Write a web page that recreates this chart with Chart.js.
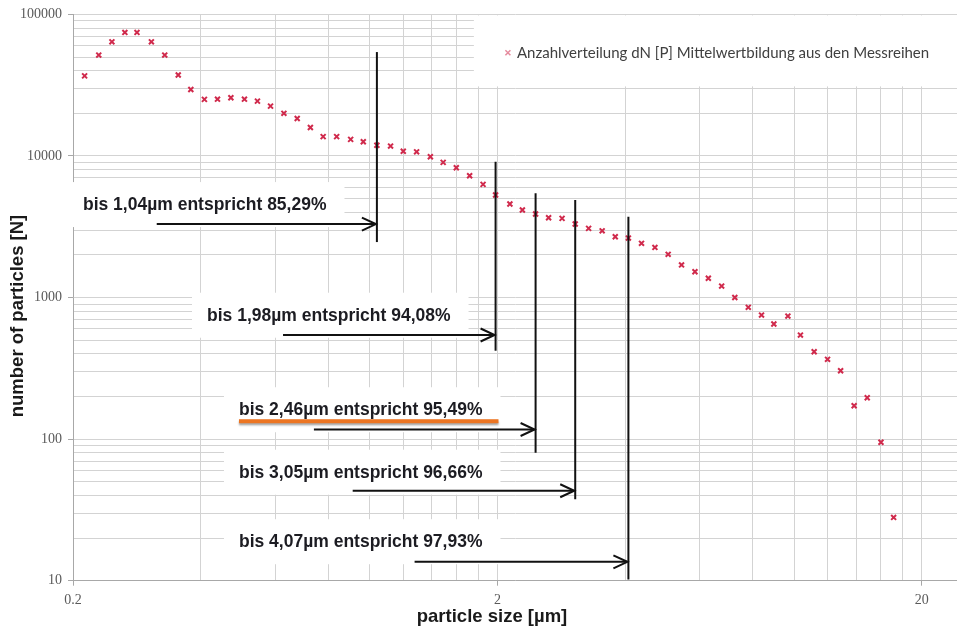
<!DOCTYPE html>
<html>
<head>
<meta charset="utf-8">
<script src="https://cdn.jsdelivr.net/npm/chart.js@4/dist/chart.umd.min.js"></script>
<style>
  html, body { margin: 0; padding: 0; background: #fff; overflow: hidden; }
  #wrap { width: 957px; height: 631px; }
  canvas { display: block; }
</style>
</head>
<body>
<div id="wrap"><canvas id="c" width="957" height="631"></canvas></div>
<script>
// Particle size channels [µm]
const sizes = [
  0.213, 0.230, 0.247, 0.265, 0.283, 0.306, 0.329, 0.354, 0.379, 0.408,
  0.438, 0.471, 0.507, 0.544, 0.584, 0.628, 0.675, 0.725, 0.777, 0.836,
  0.902, 0.966, 1.04, 1.12, 1.20, 1.29, 1.39, 1.49, 1.60, 1.72,
  1.85, 1.98, 2.14, 2.29, 2.46, 2.64, 2.84, 3.05, 3.28, 3.53,
  3.79, 4.07, 4.37, 4.70, 5.05, 5.43, 5.84, 6.28, 6.75, 7.25,
  7.80, 8.38, 8.96, 9.67, 10.35, 11.15, 11.99, 12.87, 13.85, 14.87,
  16.02, 17.16
];
// Averaged number distribution dN per channel
const counts = [
  36800, 51600, 64000, 74600, 74600, 64000, 51600, 37300, 29500, 25100,
  25200, 25800, 25200, 24400, 22500, 20000, 18400, 15900, 13700, 13700,
  13100, 12600, 11900, 11750, 10800, 10700, 9870, 9010, 8250, 7250,
  6300, 5300, 4580, 4150, 3890, 3660, 3625, 3305, 3080, 2960,
  2690, 2630, 2415, 2260, 2020, 1700, 1520, 1370, 1205, 1000,
  853, 752, 650, 740, 543, 414, 366, 304, 172, 196,
  95, 28
];
const xTickLabels = ['0.2', '2', '20'];
const yTickLabels = ['10', '100', '1000', '10000', '100000'];

// Cumulative share below each cut-off size
const cutoffSizes  = [1.04, 1.98, 2.46, 3.05, 4.07];
const cutoffShares = [85.29, 94.08, 95.49, 96.66, 97.93];
const highlighted  = 2;   // the underlined statement

const seriesLabel = 'Anzahlverteilung dN [P] Mittelwertbildung aus den Messreihen';
const xTitle = 'particle size [µm]';
const yTitle = 'number of particles [N]';

// Placement of the cut-off annotations, in axis units
const cutoffLayout = [
  { text: [0.2111, 4500], top: 54200, bottom: 2466, from: 0.315, at: 3304 },
  { text: [0.4138, 744],  top: 9100,  bottom: 421,  from: 0.625, at: 544 },
  { text: [0.4921, 160],  top: 5445,  bottom: 80.2, from: 0.739, at: 117 },
  { text: [0.4921, 57.9], top: 4884,  bottom: 37.6, from: 0.912, at: 43.2 },
  { text: [0.4921, 18.7], top: 3723,  bottom: 10.2, from: 1.276, at: 13.6 }
];
const legendLayout = { left: 1.76, bottom: 31000, marker: [2.117, 53600] };

// Grid positions: every 0.2 µm below 2 µm, every 2 µm above; 1..9 per decade on y
const xGrid = [];
for (let k = 1; k <= 10; k++) xGrid.push((k * 2) / 10);
for (let k = 2; k <= 10; k++) xGrid.push(k * 2);
const yGrid = [];
for (let e = 1; e <= 4; e++) for (let d = 1; d <= 9; d++) yGrid.push(d * Math.pow(10, e));
yGrid.push(100000);

const fmt = v => v.toFixed(2).replace('.', ',');
const cutoffText = i => `bis ${fmt(cutoffSizes[i])}µm entspricht ${fmt(cutoffShares[i])}%`;

const markColor = '#d02a4c';
const labelFont = 'bold 17.5px "Liberation Sans", Arial, sans-serif';
const titleFont = 'bold 18.5px "Liberation Sans", Arial, sans-serif';

function arrowHead(ctx, x, y) {
  ctx.beginPath();
  ctx.moveTo(x - 14, y - 6.5);
  ctx.lineTo(x, y);
  ctx.lineTo(x - 14, y + 6.5);
  ctx.stroke();
}

const annotations = {
  id: 'annotations',
  beforeDatasetsDraw(chart) {
    const { ctx, chartArea } = chart;
    const x = chart.scales.x, y = chart.scales.y;
    ctx.save();
    ctx.fillStyle = '#ffffff';
    // legend panel
    const lx = x.getPixelForValue(legendLayout.left);
    const lb = y.getPixelForValue(legendLayout.bottom);
    ctx.fillRect(lx, chartArea.top + 1, chartArea.right - lx, lb - chartArea.top - 1);
    // text panels of the cut-off statements
    ctx.font = labelFont;
    cutoffLayout.forEach((L, i) => {
      const tx = x.getPixelForValue(L.text[0]);
      const ty = y.getPixelForValue(L.text[1]);
      const w = ctx.measureText(cutoffText(i)).width;
      ctx.fillRect(tx - 15, ty - 23, w + 33, 45);
    });
    ctx.restore();
  },
  afterDatasetsDraw(chart) {
    const { ctx } = chart;
    const x = chart.scales.x, y = chart.scales.y;
    ctx.save();
    ctx.strokeStyle = '#111';
    ctx.lineWidth = 2;
    ctx.lineCap = 'butt';
    cutoffLayout.forEach((L, i) => {
      const cx = x.getPixelForValue(cutoffSizes[i]);
      // vertical cut-off line
      ctx.beginPath();
      ctx.moveTo(cx, y.getPixelForValue(L.top));
      ctx.lineTo(cx, y.getPixelForValue(L.bottom));
      ctx.stroke();
      // arrow pointing at the cut-off
      const ay = y.getPixelForValue(L.at);
      ctx.beginPath();
      ctx.moveTo(x.getPixelForValue(L.from), ay);
      ctx.lineTo(cx - 1, ay);
      ctx.stroke();
      arrowHead(ctx, cx - 1, ay);
    });
    // statements
    ctx.font = labelFont;
    ctx.textBaseline = 'middle';
    ctx.textAlign = 'left';
    cutoffLayout.forEach((L, i) => {
      const tx = x.getPixelForValue(L.text[0]);
      const ty = y.getPixelForValue(L.text[1]);
      ctx.fillStyle = '#1c1c22';
      ctx.fillText(cutoffText(i), tx, ty);
      if (i === highlighted) {
        const w = ctx.measureText(cutoffText(i)).width;
        ctx.save();
        ctx.shadowColor = 'rgba(0,0,0,0.35)';
        ctx.shadowOffsetY = 2;
        ctx.shadowBlur = 2;
        ctx.fillStyle = '#ec7522';
        ctx.fillRect(tx, ty + 9, w + 16, 4);
        ctx.restore();
      }
    });
    // legend entry
    const mx = x.getPixelForValue(legendLayout.marker[0]);
    const my = y.getPixelForValue(legendLayout.marker[1]);
    ctx.strokeStyle = 'rgba(208,42,76,0.55)';
    ctx.lineWidth = 1.5;
    ctx.beginPath();
    ctx.moveTo(mx - 2.5, my - 2.5); ctx.lineTo(mx + 2.5, my + 2.5);
    ctx.moveTo(mx - 2.5, my + 2.5); ctx.lineTo(mx + 2.5, my - 2.5);
    ctx.stroke();
    ctx.fillStyle = '#404040';
    ctx.font = '15px Lato, "Liberation Sans", sans-serif';
    ctx.fillText(seriesLabel, mx + 9, my);
    ctx.restore();
  },
  afterDraw(chart) {
    const { ctx } = chart;
    ctx.save();
    ctx.fillStyle = '#1a1a1a';
    ctx.font = titleFont;
    ctx.textAlign = 'center';
    ctx.textBaseline = 'middle';
    ctx.fillText(xTitle, 492, 617);
    ctx.translate(18, 316);
    ctx.rotate(-Math.PI / 2);
    ctx.fillText(yTitle, 0, 0);
    ctx.restore();
  }
};

const tickFont = { family: '"Liberation Serif", "Times New Roman", serif', size: 14 };
const gridColor = '#d3d3d3';
const axisColor = '#a8a8a8';

new Chart(document.getElementById('c'), {
  type: 'scatter',
  data: {
    datasets: [{
      label: seriesLabel,
      data: sizes.map((s, i) => ({ x: s, y: counts[i] })),
      showLine: false,
      pointStyle: 'crossRot',
      pointRadius: 3.5,
      pointHoverRadius: 3.5,
      borderWidth: 2,
      borderColor: markColor,
      backgroundColor: markColor
    }]
  },
  options: {
    responsive: false,
    animation: false,
    devicePixelRatio: 1,
    layout: { autoPadding: false, padding: { top: 14, right: 0, bottom: 0, left: 0 } },
    plugins: { legend: { display: false }, tooltip: { enabled: false } },
    scales: {
      x: {
        type: 'logarithmic',
        min: 0.2,
        max: 24.2,
        afterBuildTicks: s => { s.ticks = xGrid.map(v => ({ value: v })); },
        afterFit: s => { s.height = 50.3; },
        ticks: {
          autoSkip: false, maxRotation: 0, padding: 6, font: tickFont, color: '#5a5a5a',
          callback: v => xTickLabels.includes(String(v)) ? String(v) : ''
        },
        grid: {
          color: gridColor, lineWidth: 1, tickLength: 5,
          tickColor: c => (c.tick && xTickLabels.includes(String(c.tick.value))) ? axisColor : 'rgba(0,0,0,0)'
        },
        border: { color: axisColor }
      },
      y: {
        type: 'logarithmic',
        min: 10,
        max: 100000,
        afterBuildTicks: s => { s.ticks = yGrid.map(v => ({ value: v })); },
        afterFit: s => { s.width = 73; },
        ticks: {
          autoSkip: false, padding: 6, font: tickFont, color: '#5a5a5a',
          callback: v => yTickLabels.includes(String(v)) ? String(v) : ''
        },
        grid: {
          color: gridColor, lineWidth: 1, tickLength: 5,
          tickColor: c => (c.tick && yTickLabels.includes(String(c.tick.value))) ? axisColor : 'rgba(0,0,0,0)'
        },
        border: { color: axisColor }
      }
    }
  },
  plugins: [annotations]
});
</script>
</body>
</html>
